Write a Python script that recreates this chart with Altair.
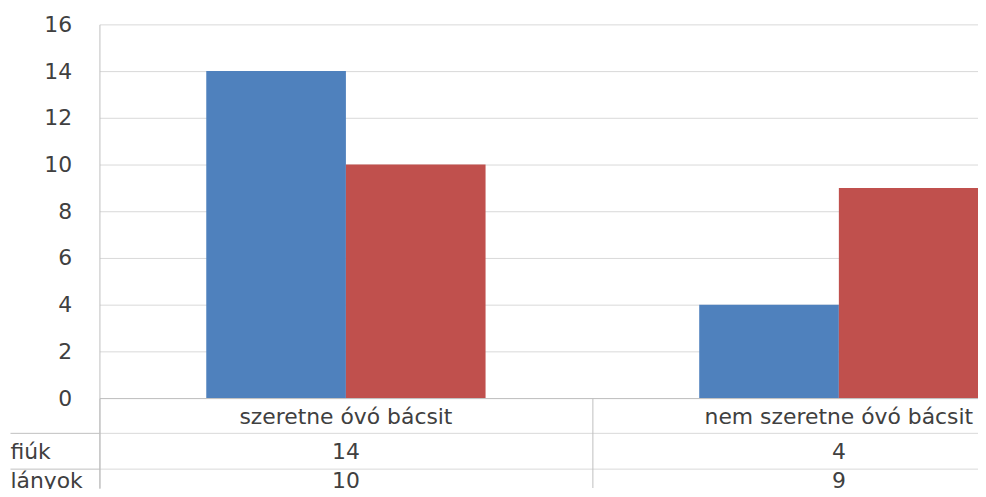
import altair as alt
import pandas as pd

categories = ["szeretne óvó bácsit", "nem szeretne óvó bácsit"]
series = ["fiúk", "lányok"]
fiuk = [14, 4]
lanyok = [10, 9]
y_ticks = [0, 2, 4, 6, 8, 10, 12, 14, 16]
row_keys = [" ", "fiúk", "lányok"]

colors = ["#4f81bd", "#c0504d"]
FONT = "DejaVu Sans"
FS = 22
TXT = "#404040"
GRID = "#d9d9d9"
LINE = "#bfbfbf"

bars = pd.DataFrame({
    "category": categories * 2,
    "series": [series[0]] * 2 + [series[1]] * 2,
    "value": fiuk + lanyok,
})

table_rows = []
for i, c in enumerate(categories):
    table_rows.append({"category": c, "row": row_keys[0], "text": c})
    table_rows.append({"category": c, "row": row_keys[1], "text": str(fiuk[i])})
    table_rows.append({"category": c, "row": row_keys[2], "text": str(lanyok[i])})
table = pd.DataFrame(table_rows)

x_scale = alt.Scale(domain=categories, range=[0, 992], paddingInner=0, paddingOuter=0)
x_axis = alt.Axis(orient="bottom", offset=-90, labels=False, title=None,
                  bandPosition=0, ticks=True, tickSize=90, tickColor=LINE,
                  domain=True, domainColor=LINE, grid=False)

bar_layer = alt.Chart(bars).mark_bar(clip=True).encode(
    x=alt.X("category:N", scale=x_scale, axis=x_axis, sort=categories),
    xOffset=alt.XOffset("series:N", sort=series,
                        scale=alt.Scale(paddingInner=0, paddingOuter=0.765)),
    y=alt.Y("value:Q",
            scale=alt.Scale(domain=[0, 16], range=[376, 0], nice=False),
            axis=alt.Axis(orient="left", values=y_ticks, title=None, ticks=False,
                          labelPadding=28, labelFont=FONT, labelFontSize=FS,
                          labelColor=TXT, grid=True, gridColor=GRID,
                          domain=True, domainColor=LINE)),
    color=alt.Color("series:N", sort=series,
                    scale=alt.Scale(domain=series, range=colors), legend=None),
)

table_y = alt.Y(
    "row:N", sort=row_keys,
    scale=alt.Scale(domain=row_keys, range=[376, 482], paddingInner=0, paddingOuter=0),
    axis=alt.Axis(orient="left", values=row_keys[1:], title=None,
                  tickBand="extent", ticks=True, tickSize=90, tickColor=LINE,
                  labelAlign="left", labelBaseline="middle", labelPadding=0,
                  labelOffset={"condition": {"test": "datum.value === 'lányok'", "value": -5},
                               "value": 1},
                  labelFont=FONT, labelFontSize=FS,
                  labelColor=TXT, grid=True, gridColor=GRID,
                  domain=True, domainColor=LINE),
)

table_base = alt.Chart(table).encode(
    x=alt.X("category:N", scale=x_scale, axis=x_axis, sort=categories),
    y=table_y,
    text="text:N",
)

table_top = table_base.transform_filter(
    alt.datum.row != row_keys[2]
).mark_text(font=FONT, fontSize=FS, color=TXT, baseline="middle", align="center", dy=1)

table_last = table_base.transform_filter(
    alt.datum.row == row_keys[2]
).mark_text(font=FONT, fontSize=FS, color=TXT, baseline="middle", align="center", dy=-5)

chart = alt.layer(bar_layer, alt.layer(table_top, table_last)).resolve_scale(
    y="independent"
).resolve_axis(
    y="independent"
).properties(
    width=884, height=466,
    autosize=alt.AutoSizeParams(type="none"),
    padding={"left": 92, "top": 15, "right": 0, "bottom": 0},
).configure_view(stroke=None)

chart.save("out.html", embed_options={"renderer": "svg", "actions": False})
